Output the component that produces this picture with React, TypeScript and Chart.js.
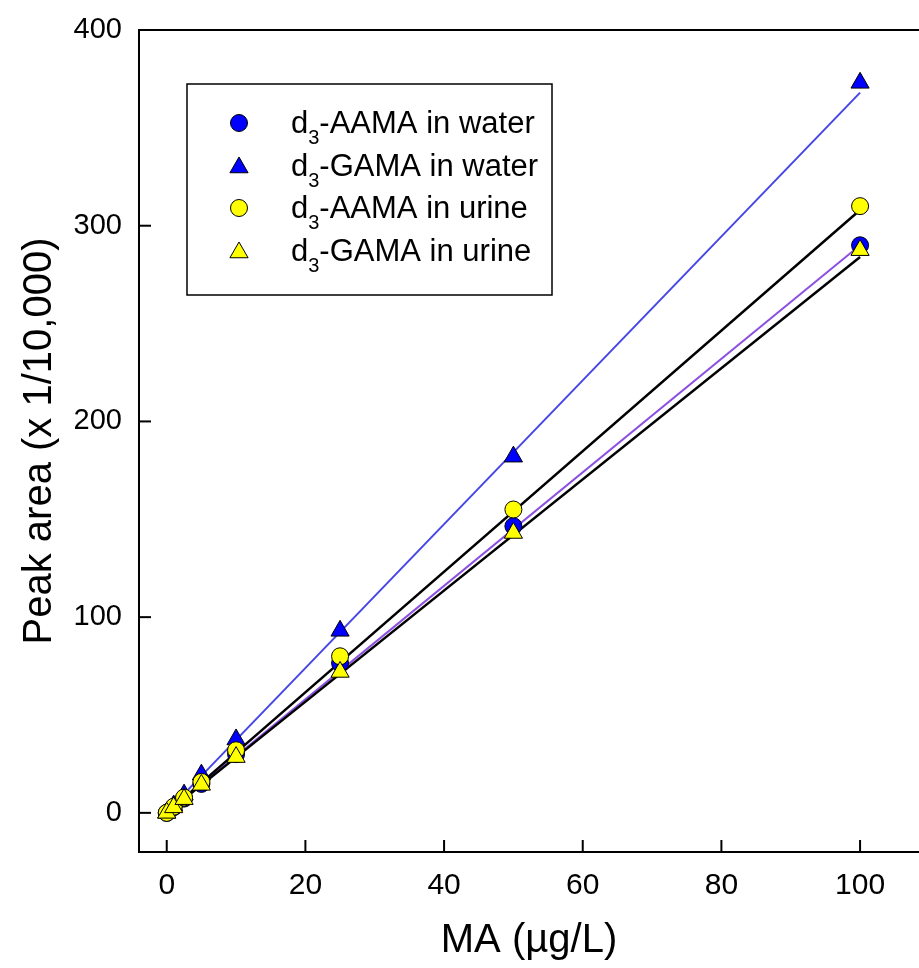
import React, { useEffect, useRef } from "react";
import { Chart, registerables } from "chart.js";

Chart.register(...registerables);

// ---- data ----
const X_VALUES = [0, 1, 2.5, 5, 10, 25, 50, 100];
const AAMA_WATER = [0, 2.9, 7.3, 14.8, 30, 76.5, 146.5, 290];
const GAMA_WATER = [0, 3.7, 9.3, 19.5, 37.5, 93, 182, 373];
const AAMA_URINE = [0, 3.1, 7.8, 15.8, 32, 80, 155, 310];
const GAMA_URINE = [0, 2.8, 7, 14.3, 28.5, 72, 143, 287.5];

const FIT_X = [0, 100];
const FIT_AAMA_WATER = [0, 290];
const FIT_GAMA_WATER = [0.5, 368];
const FIT_AAMA_URINE = [0, 308];
const FIT_GAMA_URINE = [0, 284];

const X_TICKS = [0, 20, 40, 60, 80, 100];
const Y_TICKS = [0, 100, 200, 300, 400];

const SERIES_NAMES = [
  "-AAMA in water",
  "-GAMA in water",
  "-AAMA in urine",
  "-GAMA in urine",
];
const SERIES_PREFIX = "d";
const SERIES_SUB = "3";

const FONT = "'Liberation Sans', Arial, sans-serif";
const BLUE = "#0000ff";
const YELLOW = "#ffff00";

const LEGEND_STYLES = [
  { shape: "circle", color: BLUE },
  { shape: "triangle", color: BLUE },
  { shape: "circle", color: YELLOW },
  { shape: "triangle", color: YELLOW },
];

const pts = (xs: number[], ys: number[]) => xs.map((x, i) => ({ x, y: ys[i] }));

function drawMarker(ctx: CanvasRenderingContext2D, shape: string, x: number, y: number, color: string) {
  ctx.beginPath();
  if (shape === "circle") {
    ctx.arc(x, y, 8.5, 0, Math.PI * 2);
  } else {
    const r = 10.5;
    let rad = 0;
    ctx.moveTo(x + Math.sin(rad) * r, y - Math.cos(rad) * r);
    rad += (2 * Math.PI) / 3;
    ctx.lineTo(x + Math.sin(rad) * r, y - Math.cos(rad) * r);
    rad += (2 * Math.PI) / 3;
    ctx.lineTo(x + Math.sin(rad) * r, y - Math.cos(rad) * r);
    ctx.closePath();
  }
  ctx.fillStyle = color;
  ctx.fill();
  ctx.lineWidth = 1;
  ctx.strokeStyle = "#000";
  ctx.stroke();
}

const framePlugin = {
  id: "frameTicksLegend",
  afterDraw(chart: any) {
    const { ctx, chartArea, scales } = chart;
    const xs = scales.x;
    const ys = scales.y;
    ctx.save();
    // top frame
    ctx.strokeStyle = "#000";
    ctx.lineWidth = 2;
    ctx.beginPath();
    ctx.moveTo(chartArea.left - 1, chartArea.top);
    ctx.lineTo(chartArea.right, chartArea.top);
    ctx.stroke();
    // inward ticks
    ctx.lineWidth = 2;
    X_TICKS.forEach((v) => {
      const px = xs.getPixelForValue(v);
      ctx.beginPath();
      ctx.moveTo(px, chartArea.bottom);
      ctx.lineTo(px, chartArea.bottom - 12);
      ctx.stroke();
    });
    Y_TICKS.forEach((v) => {
      const py = ys.getPixelForValue(v);
      ctx.beginPath();
      ctx.moveTo(chartArea.left, py);
      ctx.lineTo(chartArea.left + 12, py);
      ctx.stroke();
    });
    // legend
    const bx = chartArea.left + 48;
    const by = chartArea.top + 54;
    const bw = 365;
    const bh = 211;
    ctx.fillStyle = "#fff";
    ctx.fillRect(bx, by, bw, bh);
    ctx.lineWidth = 1.5;
    ctx.strokeStyle = "#000";
    ctx.strokeRect(bx, by, bw, bh);
    const rowGap = 42.5;
    SERIES_NAMES.forEach((name, i) => {
      const ry = by + 39 + i * rowGap;
      const st = LEGEND_STYLES[i];
      drawMarker(ctx, st.shape, bx + 52, st.shape === "triangle" ? ry + 2 : ry, st.color);
      let tx = bx + 104;
      const base = ry + 10;
      ctx.fillStyle = "#000";
      ctx.textBaseline = "alphabetic";
      ctx.textAlign = "left";
      ctx.font = `31px ${FONT}`;
      ctx.fillText(SERIES_PREFIX, tx, base);
      tx += ctx.measureText(SERIES_PREFIX).width;
      ctx.font = `20px ${FONT}`;
      ctx.fillText(SERIES_SUB, tx, base + 11);
      tx += ctx.measureText(SERIES_SUB).width;
      ctx.font = `31px ${FONT}`;
      ctx.fillText(name, tx, base);
    });
    ctx.restore();
  },
};

export default function App() {
  const ref = useRef<HTMLCanvasElement | null>(null);

  useEffect(() => {
    document.body.style.margin = "0";
    document.body.style.overflow = "hidden";
    const canvas = ref.current!;
    Chart.defaults.font.family = FONT;
    const scatterBase = {
      type: "scatter" as const,
      borderColor: "#000",
      borderWidth: 1,
      showLine: false,
    };
    const lineBase = {
      type: "scatter" as const,
      showLine: true,
      pointRadius: 0,
      pointHoverRadius: 0,
      order: 10,
    };
    const chart = new Chart(canvas, {
      type: "scatter",
      data: {
        datasets: [
          { ...lineBase, label: "fit GAMA water", data: pts(FIT_X, FIT_GAMA_WATER), borderColor: "#4646e6", borderWidth: 2 },
          { ...lineBase, label: "fit AAMA urine", data: pts(FIT_X, FIT_AAMA_URINE), borderColor: "#000", borderWidth: 2.5 },
          { ...lineBase, label: "fit GAMA urine", data: pts(FIT_X, FIT_GAMA_URINE), borderColor: "#000", borderWidth: 2.5 },
          { ...lineBase, label: "fit AAMA water", data: pts(FIT_X, FIT_AAMA_WATER), borderColor: "#8c50e0", borderWidth: 2 },
          { ...scatterBase, label: "d3-AAMA in water", data: pts(X_VALUES, AAMA_WATER), backgroundColor: BLUE, pointStyle: "circle", pointRadius: 8.5, order: 4 },
          { ...scatterBase, label: "d3-GAMA in water", data: pts(X_VALUES, GAMA_WATER), backgroundColor: BLUE, pointStyle: "triangle", pointRadius: 10.5, order: 3 },
          { ...scatterBase, label: "d3-AAMA in urine", data: pts(X_VALUES, AAMA_URINE), backgroundColor: YELLOW, pointStyle: "circle", pointRadius: 8.5, order: 2 },
          { ...scatterBase, label: "d3-GAMA in urine", data: pts(X_VALUES, GAMA_URINE), backgroundColor: YELLOW, pointStyle: "triangle", pointRadius: 10.5, order: 1 },
        ] as any,
      },
      options: {
        responsive: false,
        animation: false,
        devicePixelRatio: 1,
        layout: { autoPadding: false, padding: { top: 30, left: 0, right: 0, bottom: 0 } },
        plugins: { legend: { display: false }, tooltip: { enabled: false } },
        scales: {
          x: {
            type: "linear",
            min: -4,
            max: 108.5,
            afterBuildTicks: (s: any) => {
              s.ticks = X_TICKS.map((v) => ({ value: v }));
            },
            afterFit: (s: any) => {
              s.height = 116;
              s.paddingLeft = 0;
              s.paddingRight = 0;
            },
            grid: { display: false, drawTicks: false },
            border: { display: true, color: "#000", width: 2 },
            ticks: { color: "#000", font: { size: 30, family: FONT }, padding: 16, maxRotation: 0, autoSkip: false },
            title: {
              display: true,
              text: "MA (µg/L)",
              color: "#000",
              font: { size: 40, family: FONT },
              padding: { top: 0, bottom: 3 },
            },
          },
          y: {
            type: "linear",
            min: -20,
            max: 400,
            afterBuildTicks: (s: any) => {
              s.ticks = Y_TICKS.map((v) => ({ value: v }));
            },
            afterFit: (s: any) => {
              s.width = 139;
              s.paddingTop = 0;
              s.paddingBottom = 0;
            },
            grid: { display: false, drawTicks: false },
            border: { display: true, color: "#000", width: 2 },
            ticks: { color: "#000", font: { size: 29, family: FONT }, padding: 17, autoSkip: false },
            title: {
              display: true,
              text: "Peak area (x 1/10,000)",
              color: "#000",
              font: { size: 40, family: FONT },
              padding: { top: 16, bottom: 0 },
            },
          },
        },
      } as any,
      plugins: [framePlugin],
    });
    return () => chart.destroy();
  }, []);

  return (
    <div style={{ width: 919, height: 968, background: "#fff" }}>
      <canvas ref={ref} width={919} height={968} style={{ display: "block" }} />
    </div>
  );
}
